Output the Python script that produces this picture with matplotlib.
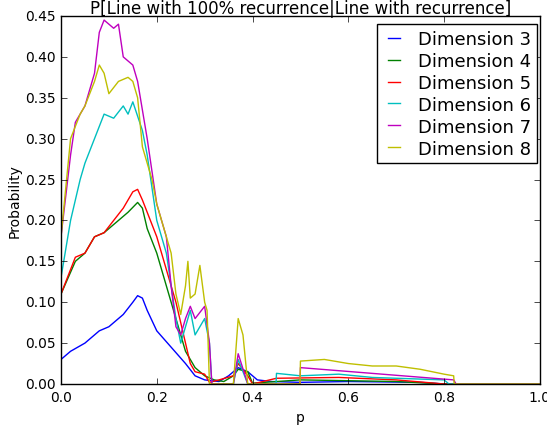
import numpy as np
import matplotlib
matplotlib.use('Agg')
import matplotlib.pyplot as plt

plt.style.use('classic')

# Dimension 3
p3 = [0.0, 0.02, 0.05, 0.08, 0.1, 0.13, 0.15, 0.16, 0.17, 0.18, 0.2, 0.23, 0.26,
      0.28, 0.3, 0.33, 0.35, 0.37, 0.39, 0.41, 0.44, 0.5, 0.6, 0.75, 0.8, 1.0]
v3 = [0.03, 0.04, 0.05, 0.065, 0.07, 0.085, 0.1, 0.108, 0.105, 0.09, 0.065, 0.045,
      0.025, 0.01, 0.005, 0.003, 0.01, 0.02, 0.015, 0.005, 0.003, 0.002, 0.003,
      0.002, 0.0, 0.0]

# Dimension 4
p4 = [0.0, 0.03, 0.05, 0.07, 0.09, 0.1, 0.12, 0.14, 0.16, 0.17, 0.18, 0.2, 0.22,
      0.24, 0.26, 0.28, 0.3, 0.32, 0.34, 0.36, 0.37, 0.39, 0.4, 0.45, 0.5, 0.7,
      0.8, 1.0]
v4 = [0.11, 0.15, 0.16, 0.18, 0.185, 0.19, 0.2, 0.21, 0.222, 0.215, 0.19, 0.16,
      0.12, 0.08, 0.04, 0.02, 0.01, 0.005, 0.003, 0.01, 0.018, 0.015, 0.001,
      0.003, 0.005, 0.003, 0.0, 0.0]

# Dimension 5
p5 = [0.0, 0.03, 0.05, 0.07, 0.09, 0.11, 0.13, 0.15, 0.16, 0.17, 0.18, 0.2, 0.22,
      0.24, 0.26, 0.27, 0.28, 0.3, 0.31, 0.33, 0.36, 0.37, 0.39, 0.4, 0.45,
      0.58, 0.7, 0.8, 1.0]
v5 = [0.11, 0.155, 0.16, 0.18, 0.185, 0.2, 0.215, 0.235, 0.238, 0.225, 0.21,
      0.18, 0.14, 0.1, 0.05, 0.025, 0.015, 0.012, 0.002, 0.005, 0.01, 0.025,
      0.01, 0.0, 0.007, 0.008, 0.005, 0.0, 0.0]

# Dimension 6
p6 = [0.0, 0.02, 0.04, 0.05, 0.07, 0.09, 0.11, 0.13, 0.14, 0.15, 0.17, 0.18,
      0.2, 0.22, 0.23, 0.24, 0.25, 0.26, 0.27, 0.28, 0.3, 0.31, 0.315, 0.36,
      0.37, 0.39, 0.449, 0.45, 0.5, 0.58, 0.65, 0.8, 0.81, 1.0]
v6 = [0.13, 0.2, 0.25, 0.27, 0.3, 0.33, 0.325, 0.34, 0.33, 0.345, 0.31, 0.28,
      0.2, 0.16, 0.12, 0.08, 0.05, 0.07, 0.09, 0.06, 0.08, 0.05, 0.0, 0.0,
      0.03, 0.0, 0.0, 0.013, 0.01, 0.012, 0.008, 0.005, 0.0, 0.0]

# Dimension 7
p7 = [0.0, 0.02, 0.03, 0.05, 0.07, 0.08, 0.09, 0.11, 0.12, 0.13, 0.15, 0.16,
      0.18, 0.2, 0.22, 0.23, 0.24, 0.25, 0.26, 0.27, 0.28, 0.3, 0.31, 0.315,
      0.36, 0.37, 0.39, 0.499, 0.5, 0.82, 0.825, 1.0]
v7 = [0.18, 0.28, 0.32, 0.34, 0.38, 0.43, 0.445, 0.435, 0.44, 0.4, 0.39, 0.37,
      0.3, 0.22, 0.18, 0.12, 0.07, 0.06, 0.08, 0.095, 0.08, 0.095, 0.05, 0.0,
      0.0, 0.037, 0.0, 0.0, 0.02, 0.005, 0.0, 0.0]

# Dimension 8
p8 = [0.0, 0.02, 0.04, 0.05, 0.07, 0.08, 0.09, 0.1, 0.12, 0.14, 0.15, 0.16,
      0.17, 0.19, 0.2, 0.22, 0.23, 0.24, 0.25, 0.26, 0.265, 0.27, 0.28, 0.29,
      0.3, 0.305, 0.31, 0.36, 0.37, 0.38, 0.39, 0.499, 0.5, 0.55, 0.6, 0.65,
      0.7, 0.75, 0.8, 0.82, 0.821, 1.0]
v8 = [0.18, 0.3, 0.33, 0.34, 0.37, 0.39, 0.38, 0.355, 0.37, 0.375, 0.37, 0.35,
      0.29, 0.25, 0.22, 0.18, 0.16, 0.11, 0.085, 0.12, 0.15, 0.105, 0.11, 0.145,
      0.1, 0.09, 0.0, 0.0, 0.08, 0.06, 0.0, 0.0, 0.028, 0.03, 0.025, 0.022,
      0.022, 0.018, 0.012, 0.01, 0.0, 0.0]

series = [(p3, v3, 'b', 'Dimension 3'),
          (p4, v4, 'g', 'Dimension 4'),
          (p5, v5, 'r', 'Dimension 5'),
          (p6, v6, 'c', 'Dimension 6'),
          (p7, v7, 'm', 'Dimension 7'),
          (p8, v8, 'y', 'Dimension 8')]

fig = plt.figure(figsize=(5.47, 4.27), dpi=100)
ax = fig.add_axes([0.1115, 0.0984, 0.8755, 0.8618])

for p, v, col, lab in series:
    ax.plot(p, v, col, label=lab, linewidth=1.0)

ax.set_xlim(0, 1.0)
ax.set_ylim(0, 0.45)
ax.set_xticks(np.arange(0, 1.01, 0.2))
ax.set_yticks(np.arange(0, 0.451, 0.05))
ax.tick_params(labelsize=10)
ax.set_xlabel('p', fontsize=10)
ax.set_ylabel('Probability', fontsize=10, labelpad=2)
ax.set_title('P[Line with 100% recurrence|Line with recurrence]', fontsize=12, pad=2)
ax.legend(loc='upper right', bbox_to_anchor=(0.994, 0.977), borderaxespad=0,
          fontsize=13, labelspacing=0.22, handlelength=1.3,
          handletextpad=0.7, borderpad=0.3)

fig.savefig('out.png', dpi=100)
